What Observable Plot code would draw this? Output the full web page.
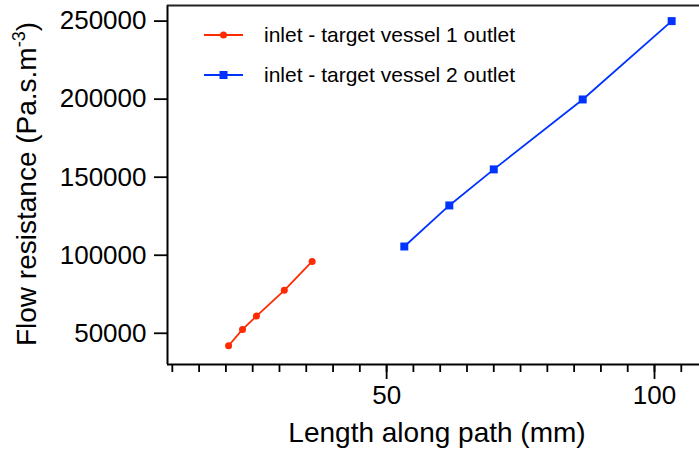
<!DOCTYPE html>
<html><head><meta charset="utf-8">
<script src="https://cdn.jsdelivr.net/npm/d3@7"></script>
<script src="https://cdn.jsdelivr.net/npm/@observablehq/plot@0.6"></script>
<style>
html,body{margin:0;padding:0;background:#fff;overflow:hidden}
#chart svg{display:block}
</style></head><body><div id="chart"></div>
<script>
const series1Name = "inlet - target vessel 1 outlet";
const series1Length = [20.5, 23.1, 25.7, 30.9, 36.1];
const series1Resistance = [42000, 52500, 61000, 77500, 96000];
const series2Name = "inlet - target vessel 2 outlet";
const series2Length = [53.3, 61.7, 70.0, 86.6, 103.2];
const series2Resistance = [105600, 131900, 155000, 199800, 250000];
const xMajorTicks = [50, 100];
const xMinorTicks = [10, 15, 20, 25, 30, 35, 40, 45, 50, 55, 60, 65, 70, 75, 80, 85, 90, 95, 100, 105];
const yTicks = [50000, 100000, 150000, 200000, 250000];
const xTitle = "Length along path (mm)";
const yTitle = "Flow resistance (Pa.s.m";
const yTitleSup = "-3";
const yTitleEnd = ")";

const red = "#ff2a00", blue = "#0033ff";
const xDomain = [9.1, 108.4], yDomain = [30000, 260000];

const s1 = series1Length.map((x, i) => ({x, y: series1Resistance[i]}));
const s2 = series2Length.map((x, i) => ({x, y: series2Resistance[i]}));

const font = "Liberation Sans, Arial, Helvetica, sans-serif";

const svg = Plot.plot({
  width: 699, height: 453,
  marginLeft: 167, marginRight: 0, marginTop: 5, marginBottom: 89,
  style: {fontFamily: font, fontSize: "26px", color: "#000", background: "#fff"},
  x: {domain: xDomain, axis: null},
  y: {domain: yDomain, axis: null},
  marks: [
    Plot.ruleX([xDomain[0]], {stroke: "#000", strokeWidth: 2}),
    Plot.ruleY([yDomain[0]], {stroke: "#000", strokeWidth: 2}),
    Plot.ruleY([yDomain[1]], {stroke: "#222", strokeWidth: 2}),
    Plot.axisX(xMinorTicks, {tickSize: 8, strokeWidth: 1.8, stroke: "#000", label: null, tickFormat: () => ""}),
    Plot.axisX(xMajorTicks, {tickSize: 15, tickPadding: 6, strokeWidth: 1.8, stroke: "#000", fill: "#000", fontSize: 26, label: null, tickFormat: d => String(d)}),
    Plot.axisY(yTicks, {tickSize: 13, tickPadding: 8, strokeWidth: 1.8, stroke: "#000", fill: "#000", fontSize: 26, label: null, tickFormat: d => String(d)}),
    Plot.line(s1, {x: "x", y: "y", stroke: red, strokeWidth: 1.8}),
    Plot.dot(s1, {x: "x", y: "y", r: 3.5, fill: red, stroke: "none"}),
    Plot.line(s2, {x: "x", y: "y", stroke: blue, strokeWidth: 1.8}),
    Plot.dot(s2, {x: "x", y: "y", r: 4.5, symbol: "square", fill: blue, stroke: "none"})
  ]
});

const g = d3.select(svg);
// axis titles
g.append("text")
  .attr("x", 437).attr("y", 442)
  .attr("text-anchor", "middle")
  .attr("font-family", font).attr("font-size", 28).attr("fill", "#000")
  .text(xTitle);
const yt = g.append("text")
  .attr("transform", "translate(36,184) rotate(-90)")
  .attr("text-anchor", "middle")
  .attr("font-family", font).attr("font-size", 28).attr("fill", "#000");
yt.append("tspan").text(yTitle);
yt.append("tspan").attr("font-size", 18).attr("dy", -11).text(yTitleSup);
yt.append("tspan").attr("dy", 11).text(yTitleEnd);

// legend
const legend = [
  {name: series1Name, color: red, sym: "circle", y: 35},
  {name: series2Name, color: blue, sym: "square", y: 75}
];
for (const d of legend) {
  const lg = g.append("g");
  lg.append("line").attr("x1", 204).attr("x2", 243).attr("y1", d.y).attr("y2", d.y)
    .attr("stroke", d.color).attr("stroke-width", 1.8);
  if (d.sym === "circle") lg.append("circle").attr("cx", 223.5).attr("cy", d.y).attr("r", 3.5).attr("fill", d.color);
  else lg.append("rect").attr("x", 219.5).attr("y", d.y - 4).attr("width", 8).attr("height", 8).attr("fill", d.color);
  lg.append("text").attr("x", 264).attr("y", d.y + 7).attr("text-anchor", "start")
    .attr("font-family", font).attr("font-size", 21)
    .attr("fill", "#000").text(d.name);
}

document.getElementById("chart").appendChild(svg);
</script></body></html>
